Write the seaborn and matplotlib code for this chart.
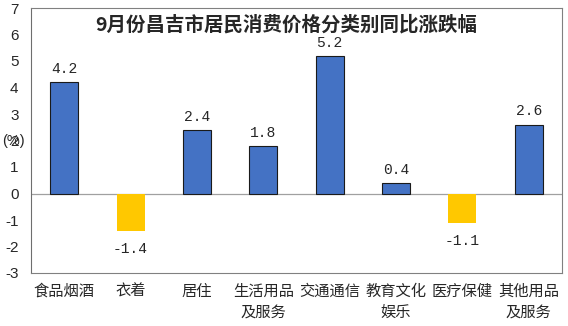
import matplotlib
matplotlib.use("Agg")
import matplotlib.pyplot as plt
import seaborn as sns
import pandas as pd

categories = ["食品烟酒", "衣着", "居住", "生活用品\n及服务", "交通通信",
              "教育文化\n娱乐", "医疗保健", "其他用品\n及服务"]
values = [4.2, -1.4, 2.4, 1.8, 5.2, 0.4, -1.1, 2.6]
y_ticks = [-3, -2, -1, 0, 1, 2, 3, 4, 5, 6, 7]
title = "9月份昌吉市居民消费价格分类别同比涨跌幅"
unit_label = "(%)"

sns.set_theme(style="white")
plt.rcParams["font.family"] = ["Noto Sans CJK SC", "DejaVu Sans"]

BLUE = "#4472C4"
YELLOW = "#FFC800"

df = pd.DataFrame({"cat": categories, "val": values})
colors = {c: (BLUE if v >= 0 else YELLOW) for c, v in zip(categories, values)}

fig = plt.figure(figsize=(5.68, 3.26), dpi=100)
ax = fig.add_axes([31 / 568, 53 / 326, 531 / 568, 265 / 326])

sns.barplot(data=df, x="cat", y="val", hue="cat", palette=colors,
            legend=False, width=0.42, ax=ax, saturation=1)

for patch, v in zip(ax.patches, values):
    if v >= 0:
        patch.set_edgecolor("#1a1a1a")
        patch.set_linewidth(0.8)
    else:
        patch.set_edgecolor("none")

ax.set_ylim(-3, 7)
ax.set_xlim(-0.5, len(categories) - 0.5)
ax.set_yticks(y_ticks)
ax.set_yticklabels([str(t) for t in y_ticks], family="Liberation Sans", fontsize=11)
ax.tick_params(axis="y", length=0, pad=9)
ax.tick_params(axis="x", length=0, pad=7)
ax.set_xticks(range(len(categories)))
ax.set_xticklabels(categories, fontsize=11, linespacing=1.3)
ax.set_xlabel("")
ax.set_ylabel("")

for side in ["top", "right", "bottom"]:
    ax.spines[side].set_color("#808080")
    ax.spines[side].set_linewidth(0.8)
ax.spines["left"].set_color("#6e6e6e")
ax.spines["left"].set_linewidth(0.8)

ax.axhline(0, color="#a0a0a0", linewidth=0.9, zorder=0.5)

# value labels above positive bars and below negative bars
for i, v in enumerate(values):
    offset = 9.5 if v >= 0 else -13
    ax.annotate(f"{v:.1f}", (i, v), xytext=(0, offset), textcoords="offset points",
                ha="center", va="center", fontsize=10.5, family="Liberation Mono")

ax.text(0.48, 0.975, title, transform=ax.transAxes, ha="center", va="top",
        fontsize=14, fontweight="bold")

# unit label placed at the left of the value axis
ax.text(-0.033, 2.0, unit_label, transform=ax.get_yaxis_transform(),
        ha="center", va="center", fontsize=10.5, family="Liberation Sans")

fig.savefig("out.png", dpi=100)
